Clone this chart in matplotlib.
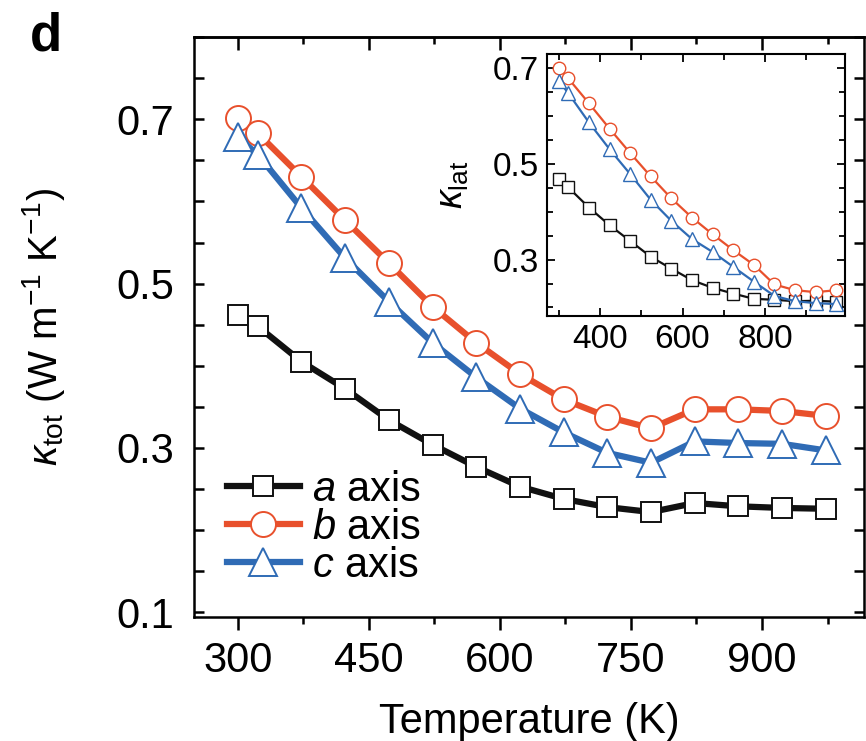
import numpy as np
import matplotlib
matplotlib.use("Agg")
import matplotlib.pyplot as plt
from matplotlib.ticker import MultipleLocator, FixedLocator

plt.rcParams['font.family'] = ['Liberation Sans', 'DejaVu Sans']
plt.rcParams['mathtext.fontset'] = 'custom'
plt.rcParams['mathtext.rm'] = 'Liberation Sans'
plt.rcParams['mathtext.it'] = 'Liberation Sans:italic'
plt.rcParams['mathtext.bf'] = 'Liberation Sans:bold'

# temperatures (K)
temps = [300, 323, 373, 423, 473, 523, 573, 623, 673, 723, 773, 823, 873, 923, 973]

# total thermal conductivity, main panel
k_tot_a = [0.462, 0.448, 0.405, 0.372, 0.334, 0.304, 0.277, 0.253, 0.238, 0.228, 0.222, 0.233, 0.229, 0.227, 0.226]
k_tot_b = [0.701, 0.683, 0.630, 0.577, 0.525, 0.472, 0.428, 0.390, 0.359, 0.338, 0.324, 0.347, 0.347, 0.345, 0.339]
k_tot_c = [0.678, 0.657, 0.592, 0.531, 0.478, 0.428, 0.386, 0.348, 0.319, 0.294, 0.282, 0.308, 0.306, 0.305, 0.297]

# lattice thermal conductivity, inset
k_lat_a = [0.468, 0.451, 0.409, 0.372, 0.339, 0.306, 0.281, 0.257, 0.241, 0.229, 0.218, 0.216, 0.213, 0.214, 0.212]
k_lat_b = [0.700, 0.679, 0.627, 0.574, 0.523, 0.474, 0.428, 0.388, 0.353, 0.320, 0.289, 0.248, 0.236, 0.232, 0.236]
k_lat_c = [0.674, 0.648, 0.587, 0.531, 0.479, 0.425, 0.381, 0.343, 0.316, 0.285, 0.254, 0.224, 0.213, 0.209, 0.207]

labels = [r'$a$ axis', r'$b$ axis', r'$c$ axis']
col_a = '#111111'
col_b = '#E8502C'
col_c = '#2F6BB5'

fig = plt.figure(figsize=(8.66, 7.41), dpi=100)
ax = fig.add_axes([0.224, 0.167, 0.774, 0.783])

ax.plot(temps, k_tot_a, '-s', color=col_a, lw=4.5, ms=15, mfc='white', mec=col_a, mew=1.4, label=labels[0])
ax.plot(temps, k_tot_b, '-o', color=col_b, lw=4.5, ms=18, mfc='white', mec=col_b, mew=1.4, label=labels[1])
ax.plot(temps, k_tot_c, '-^', color=col_c, lw=4.5, ms=20, mfc='white', mec=col_c, mew=1.4, label=labels[2])

ax.set_xlim(250, 1017)
ax.set_ylim(0.094, 0.80)
ax.xaxis.set_major_locator(MultipleLocator(150))
ax.xaxis.set_minor_locator(MultipleLocator(75))
ax.yaxis.set_major_locator(FixedLocator([0.1, 0.3, 0.5, 0.7]))
ax.yaxis.set_minor_locator(MultipleLocator(0.05))
ax.set_yticklabels(['0.1', '0.3', '0.5', '0.7'])

ax.tick_params(axis='x', which='both', direction='out', top=False, labelsize=30, width=1.8, pad=8)
ax.tick_params(axis='x', which='major', length=9)
ax.tick_params(axis='x', which='minor', length=5)
ax.tick_params(axis='y', which='both', direction='in', right=True, labelsize=30, width=1.8, length=7, pad=14)
# top ticks point inward
secx = ax.secondary_xaxis('top')
secx.xaxis.set_major_locator(MultipleLocator(150))
secx.xaxis.set_minor_locator(MultipleLocator(75))
secx.tick_params(which='both', direction='in', labeltop=False, width=1.8)
secx.tick_params(which='major', length=9)
secx.tick_params(which='minor', length=5)
secx.spines['top'].set_linewidth(1.8)
for s in ax.spines.values():
    s.set_linewidth(1.8)

ax.set_xlabel('Temperature (K)', fontsize=30, labelpad=15)
ax.set_ylabel(r'$\kappa_{\mathrm{tot}}$ (W m$^{-1}$ K$^{-1}$)', fontsize=29)
ax.yaxis.set_label_coords(-0.19, 0.5)

ax.legend(loc='upper left', bbox_to_anchor=(227 / 866, 1 - 470 / 741), bbox_transform=fig.transFigure,
          frameon=False, fontsize=30, handlelength=1.75, handletextpad=0.3, labelspacing=-0.05,
          borderpad=0, borderaxespad=0)

fig.text(0.035, 0.985, 'd', fontsize=38, fontweight='bold', va='top', ha='left')

# inset: lattice thermal conductivity
ins = fig.add_axes([0.632, 0.5735, 0.3437, 0.3535])
ins.plot(temps, k_lat_a, '-s', color=col_a, lw=1.6, ms=8, mfc='white', mec=col_a, mew=1.0)
ins.plot(temps, k_lat_b, '-o', color=col_b, lw=1.6, ms=9, mfc='white', mec=col_b, mew=1.0)
ins.plot(temps, k_lat_c, '-^', color=col_c, lw=1.6, ms=10.5, mfc='white', mec=col_c, mew=1.0)
ins.set_xlim(272, 994)
ins.set_ylim(0.182, 0.73)
ins.xaxis.set_major_locator(MultipleLocator(200))
ins.xaxis.set_minor_locator(MultipleLocator(100))
ins.yaxis.set_major_locator(FixedLocator([0.3, 0.5, 0.7]))
ins.yaxis.set_minor_locator(MultipleLocator(0.05))
ins.set_yticklabels(['0.3', '0.5', '0.7'])
ins.tick_params(which='both', direction='in', top=True, right=True, labelsize=24, width=1.3, pad=6)
ins.tick_params(which='major', length=6)
ins.tick_params(which='minor', length=4)
for s in ins.spines.values():
    s.set_linewidth(1.5)
ins.set_ylabel(r'$\kappa_{\mathrm{lat}}$', fontsize=27, labelpad=16)

fig.savefig('out.png', dpi=100)
